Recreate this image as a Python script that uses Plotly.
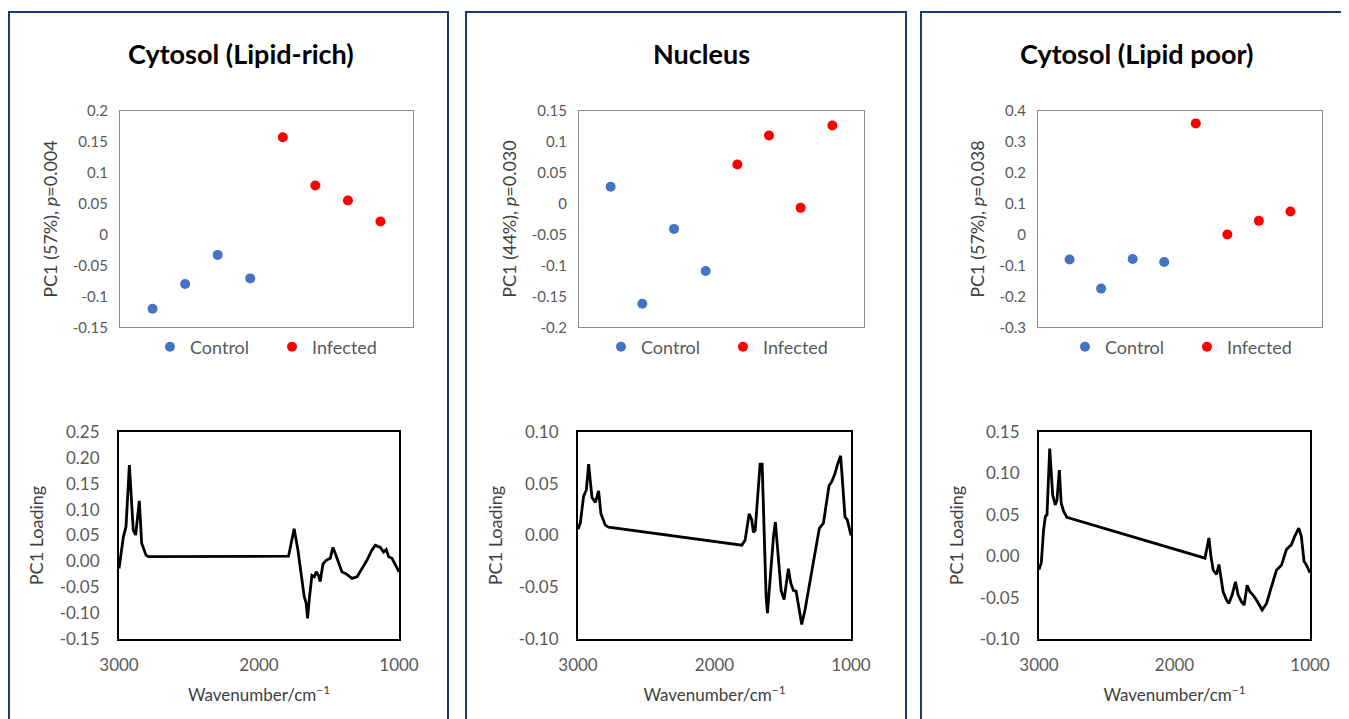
import plotly.graph_objects as go

# The page body has an 8px default margin, so the figure is drawn 8px in from the
# window's top-left corner; size it to fill the remaining window.
OFF = 8
W, H = 1349 - OFF, 719 - OFF
FONT = "Lato, Carlito, Calibri, sans-serif"

# ---------------- data ----------------
titles = ["Cytosol (Lipid-rich)", "Nucleus", "Cytosol (Lipid poor)"]
score_titles = ["PC1 (57%), <i>p</i>=0.004",
                "PC1 (44%), <i>p</i>=0.030",
                "PC1 (57%), <i>p</i>=0.038"]
group_names = ["Control", "Infected"]

control_idx = [1, 2, 3, 4]
infected_idx = [5, 6, 7, 8]

control_rich = [-0.120, -0.080, -0.033, -0.071]
infected_rich = [0.157, 0.079, 0.055, 0.021]
control_nuc = [0.027, -0.162, -0.041, -0.109]
infected_nuc = [0.063, 0.110, -0.007, 0.126]
control_poor = [-0.081, -0.175, -0.079, -0.089]
infected_poor = [0.359, 0.000, 0.044, 0.074]

score_tickvals_rich = [0.2, 0.15, 0.1, 0.05, 0, -0.05, -0.1, -0.15]
score_ticktext_rich = ["0.2", "0.15", "0.1", "0.05", "0", "-0.05", "-0.1", "-0.15"]
score_tickvals_nuc = [0.15, 0.1, 0.05, 0, -0.05, -0.1, -0.15, -0.2]
score_ticktext_nuc = ["0.15", "0.1", "0.05", "0", "-0.05", "-0.1", "-0.15", "-0.2"]
score_tickvals_poor = [0.4, 0.3, 0.2, 0.1, 0, -0.1, -0.2, -0.3]
score_ticktext_poor = ["0.4", "0.3", "0.2", "0.1", "0", "-0.1", "-0.2", "-0.3"]

wavenumber_ticks = [3000, 2000, 1000]
wavenumber_ticktext = ["3000", "2000", "1000"]

load_tickvals_rich = [0.25, 0.20, 0.15, 0.10, 0.05, 0.0, -0.05, -0.10, -0.15]
load_ticktext_rich = ["0.25", "0.20", "0.15", "0.10", "0.05", "0.00", "-0.05", "-0.10", "-0.15"]
load_tickvals_nuc = [0.10, 0.05, 0.0, -0.05, -0.10]
load_ticktext_nuc = ["0.10", "0.05", "0.00", "-0.05", "-0.10"]
load_tickvals_poor = [0.15, 0.10, 0.05, 0.0, -0.05, -0.10]
load_ticktext_poor = ["0.15", "0.10", "0.05", "0.00", "-0.05", "-0.10"]

wn_rich = [3000, 2969, 2950, 2926, 2898, 2881, 2855, 2838, 2807, 2790,
           1789, 1749, 1722, 1706, 1677, 1663, 1653, 1639, 1622, 1605,
           1591, 1574, 1563, 1543, 1520, 1491, 1472, 1455, 1431, 1408,
           1372, 1336, 1300, 1265, 1229, 1193, 1169, 1133, 1110, 1091,
           1074, 1050, 1026, 1000]
load_rich = [-0.014, 0.047, 0.067, 0.186, 0.060, 0.051, 0.117, 0.035, 0.012, 0.009,
             0.010, 0.063, 0.022, -0.010, -0.068, -0.081, -0.110, -0.068, -0.027, -0.030,
             -0.020, -0.028, -0.039, -0.005, 0.002, 0.006, 0.027, 0.015, -0.004, -0.020,
             -0.025, -0.033, -0.030, -0.014, 0.002, 0.022, 0.031, 0.027, 0.018, 0.023,
             0.009, 0.006, -0.007, -0.020]

wn_nuc = [3000, 2983, 2959, 2939, 2922, 2898, 2873, 2849, 2832, 2800,
          2776, 1800, 1776, 1746, 1727, 1715, 1702, 1683, 1666, 1651,
          1637, 1622, 1612, 1593, 1568, 1554, 1532, 1512, 1490, 1476,
          1459, 1441, 1422, 1402, 1385, 1361, 1337, 1300, 1263, 1232,
          1202, 1178, 1161, 1141, 1117, 1098, 1076, 1061, 1044, 1027,
          1000]
load_nuc = [0.006, 0.012, 0.038, 0.044, 0.069, 0.037, 0.032, 0.043, 0.021, 0.010,
            0.008, -0.0093, -0.0045, 0.021, 0.015, 0.003, 0.005, 0.041, 0.069, 0.069,
            0.008, -0.059, -0.075, -0.043, -0.001, 0.013, -0.021, -0.053, -0.062, -0.050,
            -0.032, -0.046, -0.053, -0.054, -0.069, -0.086, -0.072, -0.043, -0.014, 0.007,
            0.012, 0.034, 0.048, 0.052, 0.060, 0.069, 0.077, 0.050, 0.018, 0.015,
            0.000]

wn_poor = [3000, 2983, 2966, 2953, 2941, 2921, 2899, 2880, 2867, 2850,
           2836, 2818, 2794, 1775, 1746, 1731, 1714, 1690, 1672, 1658,
           1641, 1616, 1599, 1575, 1550, 1530, 1506, 1486, 1464, 1444,
           1420, 1395, 1353, 1321, 1285, 1248, 1211, 1174, 1137, 1113,
           1083, 1064, 1044, 1025, 1000]
load_poor = [-0.016, -0.008, 0.032, 0.048, 0.050, 0.130, 0.074, 0.062, 0.068, 0.104,
             0.064, 0.054, 0.047, -0.0023, 0.022, -0.0004, -0.017, -0.022, -0.010, -0.027,
             -0.043, -0.053, -0.057, -0.047, -0.031, -0.047, -0.055, -0.059, -0.035, -0.043,
             -0.047, -0.053, -0.065, -0.057, -0.037, -0.017, -0.011, 0.008, 0.014, 0.024,
             0.034, 0.024, -0.006, -0.011, -0.020]

# ---------------- styling / layout ----------------
CONTROL_COLOR = "#4472C4"
INFECTED_COLOR = "#FF0000"
FRAME_COLOR = "#1F3A6E"
GREY_TEXT = "#595959"


def fx(p):
    # window pixel -> paper fraction
    return (p - OFF) / W


def fy(p):
    return 1 - (p - OFF) / H


panels = [
    dict(title=titles[0], title_x=241, frame=(9, 448),
         sbox=(120, 413), lbox=(119, 399),
         ctrl=control_rich, inf=infected_rich,
         sticks=(score_tickvals_rich, score_ticktext_rich), srange=[-0.15, 0.2],
         wn=wn_rich, ld=load_rich,
         lticks=(load_tickvals_rich, load_ticktext_rich), lrange=[-0.15, 0.25],
         leg_x=172),
    dict(title=titles[1], title_x=701, frame=(466, 906),
         sbox=(579, 864), lbox=(578, 851),
         ctrl=control_nuc, inf=infected_nuc,
         sticks=(score_tickvals_nuc, score_ticktext_nuc), srange=[-0.2, 0.15],
         wn=wn_nuc, ld=load_nuc,
         lticks=(load_tickvals_nuc, load_ticktext_nuc), lrange=[-0.10, 0.10],
         leg_x=623),
    dict(title=titles[2], title_x=1136, frame=(921, 1362),
         sbox=(1038, 1322), lbox=(1039, 1310),
         ctrl=control_poor, inf=infected_poor,
         sticks=(score_tickvals_poor, score_ticktext_poor), srange=[-0.3, 0.4],
         wn=wn_poor, ld=load_poor,
         lticks=(load_tickvals_poor, load_ticktext_poor), lrange=[-0.10, 0.15],
         leg_x=1087),
]

fig = go.Figure()
layout = dict(
    width=W, height=H,
    margin=dict(l=0, r=0, t=0, b=0, autoexpand=False),
    paper_bgcolor="white", plot_bgcolor="white",
    font=dict(family=FONT, color=GREY_TEXT),
    shapes=[], annotations=[],
)

S_TOP, S_BOT = 110.7, 327.3
L_TOP, L_BOT = 432, 639

for i, p in enumerate(panels):
    sx = 2 * i + 1
    lx = 2 * i + 2
    sxa = f"x{sx}" if sx > 1 else "x"
    sya = f"y{sx}" if sx > 1 else "y"
    lxa, lya = f"x{lx}", f"y{lx}"
    legname = "legend" if i == 0 else f"legend{i + 1}"

    # score scatter
    fig.add_trace(go.Scatter(x=control_idx, y=p["ctrl"], mode="markers", name=group_names[0],
                             marker=dict(color=CONTROL_COLOR, size=10),
                             xaxis=sxa, yaxis=sya, legend=legname))
    fig.add_trace(go.Scatter(x=infected_idx, y=p["inf"], mode="markers", name=group_names[1],
                             marker=dict(color=INFECTED_COLOR, size=10),
                             xaxis=sxa, yaxis=sya, legend=legname))
    # loading spectrum
    fig.add_trace(go.Scatter(x=p["wn"], y=p["ld"], mode="lines", showlegend=False,
                             line=dict(color="black", width=2.8),
                             xaxis=lxa, yaxis=lya))

    xs = "xaxis" if sx == 1 else f"xaxis{sx}"
    ys = "yaxis" if sx == 1 else f"yaxis{sx}"
    layout[xs] = dict(domain=[fx(p["sbox"][0]), fx(p["sbox"][1])], anchor=sya,
                      range=[0, 9], showticklabels=False, ticks="", showgrid=False,
                      zeroline=False, showline=True, mirror=True, automargin=False,
                      linecolor="#8C8C8C", linewidth=1)
    layout[ys] = dict(domain=[fy(S_BOT), fy(S_TOP)], anchor=sxa, automargin=False,
                      range=p["srange"], tickvals=p["sticks"][0], ticktext=p["sticks"][1],
                      ticks="", showgrid=False, zeroline=False, showline=True, mirror=True,
                      linecolor="#8C8C8C", linewidth=1, ticklabelstandoff=8,
                      tickfont=dict(size=15, color=GREY_TEXT),
                      title=dict(text=score_titles[i], standoff=10,
                                 font=dict(size=18, color="#404040")))
    layout[f"xaxis{lx}"] = dict(domain=[fx(p["lbox"][0]), fx(p["lbox"][1])], anchor=lya,
                                range=[3000, 1000], tickvals=wavenumber_ticks, automargin=False,
                                ticktext=wavenumber_ticktext, ticks="", showgrid=False,
                                zeroline=False, showline=True, mirror=True,
                                linecolor="black", linewidth=2, ticklabelstandoff=10,
                                tickfont=dict(size=17, color=GREY_TEXT),
                                title=dict(text="Wavenumber/cm<sup>\u22121</sup>", standoff=15,
                                           font=dict(size=17, color="#404040")))
    layout[f"yaxis{lx}"] = dict(domain=[fy(L_BOT), fy(L_TOP)], anchor=lxa,
                                range=p["lrange"], tickvals=p["lticks"][0], automargin=False,
                                ticktext=p["lticks"][1], ticks="", showgrid=False,
                                zeroline=False, showline=True, mirror=True,
                                linecolor="black", linewidth=2, ticklabelstandoff=14,
                                tickfont=dict(size=17, color=GREY_TEXT),
                                title=dict(text="PC1 Loading", standoff=11,
                                           font=dict(size=18, color="#404040")))
    layout[legname] = dict(orientation="h", x=fx(p["leg_x"] - 22), y=fy(347),
                           xanchor="left", yanchor="middle",
                           font=dict(size=18, color=GREY_TEXT, family=FONT),
                           bgcolor="rgba(0,0,0,0)", entrywidth=77, entrywidthmode="pixels",
                           itemclick=False, itemdoubleclick=False)
    # panel frame
    layout["shapes"].append(dict(type="rect", xref="paper", yref="paper",
                                 x0=fx(p["frame"][0]), x1=fx(p["frame"][1]),
                                 y0=fy(740), y1=fy(12),
                                 line=dict(color=FRAME_COLOR, width=2), layer="below"))
    # panel title
    layout["annotations"].append(dict(text=f"<b>{p['title']}</b>", xref="paper", yref="paper",
                                      x=fx(p["title_x"]), y=fy(54), xanchor="center",
                                      yanchor="middle", showarrow=False,
                                      font=dict(size=27, color="black", family=FONT)))

fig.update_layout(**layout)
fig.write_html("out.html")
